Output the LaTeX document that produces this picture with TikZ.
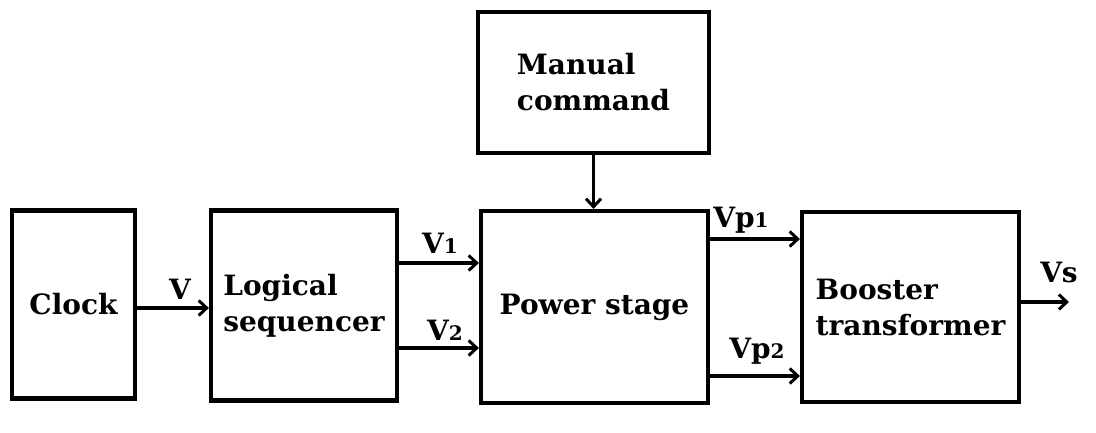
\documentclass[tikz,border=0pt]{standalone}
\usepackage{fontspec}
\setmainfont{DejaVu Serif}
\usetikzlibrary{arrows.meta}
\newcommand{\osd}[1]{{\fontsize{20}{20}\selectfont #1}}
\tikzset{
  blk/.style={draw=black, line width=4.2pt, fill=white, inner sep=0pt, font=\fontsize{28}{36}\selectfont\bfseries, align=left},
  conn/.style={line width=3.6pt, -{Straight Barb[length=8pt,width=15pt,line width=3pt]}},
  lbl/.style={font=\fontsize{28}{36}\selectfont\bfseries, inner sep=0pt}
}
\begin{document}
\begin{tikzpicture}[x=1pt,y=-1pt]
\useasboundingbox (0,0) rectangle (1096,433);
\node[blk, minimum width=123pt, minimum height=188pt] (clock) at (73.5,304.5) {Clock};
\node[blk, minimum width=186pt, minimum height=190pt] (seq) at (304,305.5) {Logical\\sequencer};
\node[blk, minimum width=227pt, minimum height=192pt] (pow) at (594.5,307) {Power stage};
\node[blk, minimum width=231pt, minimum height=141pt] (man) at (593.5,82.5) {Manual\\command};
\node[blk, minimum width=217pt, minimum height=190pt] (boo) at (910.5,307) {Booster\\transformer};
\coordinate (vsend) at (1069,302);

\draw[conn] (clock.east |- 0,308) -- (seq.west |- 0,308);
\draw[conn] (seq.east |- 0,263) -- (pow.west |- 0,263);
\draw[conn] (seq.east |- 0,348) -- (pow.west |- 0,348);
\draw[conn] (man.south) -- (pow.north -| man.south);
\draw[conn] (pow.east |- 0,239) -- (boo.west |- 0,239);
\draw[conn] (pow.east |- 0,376) -- (boo.west |- 0,376);
\draw[conn] (boo.east |- vsend) -- (vsend);

\node[lbl, anchor=base] (lv) at (180,299) {V};
\node[lbl, anchor=base] (lv1) at (440,253) {V\osd{1}};
\node[lbl, anchor=base] (lv2) at (445,340) {V\osd{2}};
\node[lbl, anchor=base] (lvp1) at (741,228) {Vp\osd{1}};
\node[lbl, anchor=base] (lvp2) at (757,358) {Vp\osd{2}};
\node[lbl, anchor=base] (lvs) at (1059,282) {Vs};
\end{tikzpicture}
\end{document}
